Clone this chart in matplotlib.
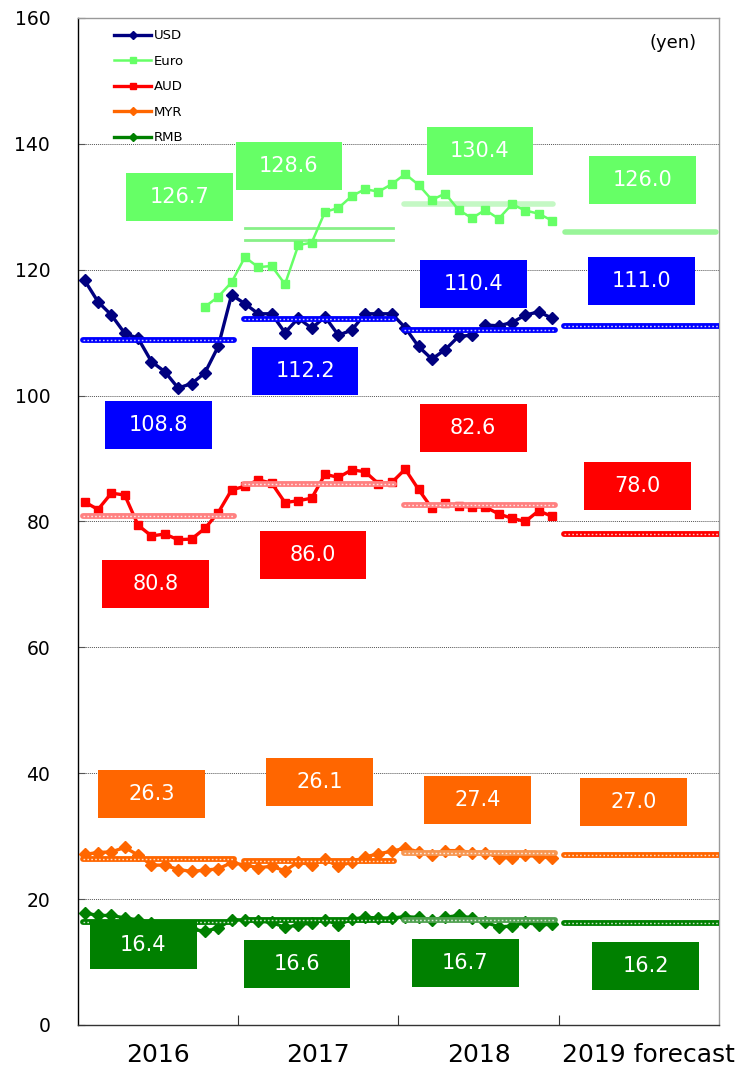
import numpy as np
import matplotlib
matplotlib.use("Agg")
import matplotlib.pyplot as plt
from matplotlib.patches import Rectangle
from matplotlib.lines import Line2D

# ---------------------------------------------------------------------------
# Monthly rates (yen per unit), Jan 2016 - Dec 2018
# ---------------------------------------------------------------------------
years = ["2016", "2017", "2018", "2019 forecast"]

usd = [118.3, 114.9, 112.8, 109.9, 109.1, 105.4, 103.8, 101.2, 101.9, 103.6, 107.8, 116.0,
       114.6, 113.0, 113.0, 110.0, 112.3, 110.7, 112.5, 109.6, 110.4, 113.0, 113.0, 113.0,
       110.8, 107.8, 105.8, 107.3, 109.4, 109.6, 111.2, 111.1, 111.6, 112.8, 113.3, 112.3]

euro = [np.nan] * 9 + [
        114.1, 115.7, 118.0,
        122.0, 120.4, 120.6, 117.7, 123.9, 124.3, 129.2, 129.8, 131.7, 132.8, 132.4, 133.6,
        135.2, 133.5, 131.1, 132.1, 129.5, 128.2, 129.5, 128.1, 130.4, 129.4, 128.9, 127.8]

aud = [83.1, 81.9, 84.5, 84.2, 79.4, 77.7, 78.0, 77.1, 77.2, 78.9, 81.4, 85.0,
       85.6, 86.6, 86.1, 83.0, 83.3, 83.7, 87.5, 87.0, 88.2, 87.9, 86.0, 86.2,
       88.3, 85.1, 82.1, 82.9, 82.4, 82.3, 82.3, 81.2, 80.5, 80.0, 81.7, 80.8]

myr = [27.1, 27.4, 27.5, 28.2, 27.0, 25.4, 25.4, 24.7, 24.4, 24.6, 24.8, 25.8,
       25.4, 25.0, 25.2, 24.5, 25.9, 25.4, 26.3, 25.2, 25.9, 26.7, 27.2, 27.6,
       28.1, 27.5, 27.0, 27.7, 27.7, 27.4, 27.4, 26.6, 26.6, 27.0, 26.7, 26.6]

rmb = [17.8, 17.4, 17.4, 17.0, 16.7, 16.2, 15.8, 15.5, 15.2, 14.9, 15.4, 16.7,
       16.7, 16.5, 16.3, 15.5, 15.9, 16.2, 16.7, 15.9, 16.8, 17.1, 17.0, 17.0,
       17.2, 17.1, 16.7, 17.1, 17.4, 17.0, 16.3, 15.6, 15.7, 16.3, 15.9, 16.0]

# yearly averages (2016, 2017, 2018, 2019 forecast)
usd_avg = [108.8, 112.2, 110.4, 111.0]
euro_avg = [126.7, 128.6, 130.4, 126.0]
aud_avg = [80.8, 86.0, 82.6, 78.0]
myr_avg = [26.3, 26.1, 27.4, 27.0]
rmb_avg = [16.4, 16.6, 16.7, 16.2]

# euro reference lines that sit in the 2017 block
euro_2017_lines = [126.7, 124.7]

# ---------------------------------------------------------------------------
# Figure
# ---------------------------------------------------------------------------
fig = plt.figure(figsize=(7.4, 10.69), dpi=100)
ax = fig.add_axes([0.1054, 0.0412, 0.8662, 0.942])

months = np.arange(36) + 0.5
ax.set_xlim(0, 48)
ax.set_ylim(0, 160)

series = [
    ("USD", usd, "#000080", "D", 6.0, 2.4),
    ("Euro", euro, "#66ff66", "s", 6.0, 1.8),
    ("AUD", aud, "#ff0000", "s", 6.0, 2.4),
    ("MYR", myr, "#ff6600", "D", 6.0, 2.4),
    ("RMB", rmb, "#008000", "D", 6.0, 2.4),
]
for name, vals, col, mk, ms, lw in series:
    ax.plot(months, vals, color=col, marker=mk, markersize=ms, linewidth=lw, zorder=4)


def dotted_avg(value, year_idx, color, x0=0.4, x1=11.7):
    xs = [year_idx * 12 + x0, year_idx * 12 + x1]
    ax.plot(xs, [value, value], color=color, linewidth=4.2,
            solid_capstyle="round", zorder=5)
    ax.plot(xs, [value, value], color="white", linewidth=1.0,
            linestyle=(0, (1.2, 1.6)), alpha=0.8, zorder=6)


for i, v in enumerate(usd_avg):
    dotted_avg(v, i, "#0000ff", x1=11.7 if i < 3 else 12.0)
for i, v in enumerate(aud_avg):
    dotted_avg(v, i, "#ff8080" if i < 3 else "#ff0000", x1=11.7 if i < 3 else 12.0)
for i, v in enumerate(myr_avg):
    dotted_avg(v, i, "#f79650" if i == 2 else "#ff6600", x1=11.7 if i < 3 else 12.0)
for i, v in enumerate(rmb_avg):
    dotted_avg(v, i, "#4fa04f" if i == 2 else "#008000", x1=11.7 if i < 3 else 12.0)

# euro: plain solid average lines
for v in euro_2017_lines:
    ax.plot([12.5, 23.6], [v, v], color="#88f088", linewidth=2.0, zorder=3)
ax.plot([24.4, 35.6], [euro_avg[2], euro_avg[2]], color="#c4f8c4",
        linewidth=4.0, solid_capstyle="round", zorder=3)
ax.plot([36.5, 47.8], [euro_avg[3], euro_avg[3]], color="#99f599",
        linewidth=4.0, solid_capstyle="round", zorder=3)

# ---------------------------------------------------------------------------
# Value boxes (centre month, centre height)
# ---------------------------------------------------------------------------
box_w, box_h = 8.0, 7.6
box_spots = {
    "euro": [(7.6, 131.6), (15.8, 136.5), (30.1, 138.9), (42.3, 134.3)],
    "usd": [(6.0, 95.3), (17.0, 103.9), (29.6, 117.7), (42.2, 118.2)],
    "aud": [(5.8, 70.1), (17.6, 74.7), (29.6, 94.9), (41.9, 85.6)],
    "myr": [(5.5, 36.7), (18.1, 38.6), (29.9, 35.7), (41.6, 35.4)],
    "rmb": [(4.9, 12.7), (16.4, 9.7), (29.0, 9.9), (42.5, 9.4)],
}
box_sets = [
    ("euro", euro_avg, "#66ff66"),
    ("usd", usd_avg, "#0000ff"),
    ("aud", aud_avg, "#ff0000"),
    ("myr", myr_avg, "#ff6600"),
    ("rmb", rmb_avg, "#008000"),
]
for key, vals, col in box_sets:
    for (cx, cy), v in zip(box_spots[key], vals):
        ax.add_patch(Rectangle((cx - box_w / 2, cy - box_h / 2), box_w, box_h,
                               facecolor=col, edgecolor="none", zorder=8))
        ax.text(cx, cy, f"{v:.1f}", color="white", fontsize=15,
                ha="center", va="center", zorder=9)

# ---------------------------------------------------------------------------
# Axes styling
# ---------------------------------------------------------------------------
ax.set_yticks(np.arange(0, 161, 20))
ax.tick_params(axis="y", direction="in", length=5, labelsize=13.5, pad=20,
               color="#555555")
ax.set_xticks([12, 24, 36])
ax.set_xticklabels([])
ax.tick_params(axis="x", direction="in", length=7, color="#333333")
for y in range(20, 160, 20):
    ax.axhline(y, color="#555555", linewidth=0.7, linestyle=(0, (1, 1)), zorder=1)

ax.spines["left"].set_color("black")
ax.spines["bottom"].set_color("#333333")
ax.spines["top"].set_color("#999999")
ax.spines["right"].set_color("#999999")
for s in ax.spines.values():
    s.set_linewidth(1.0)

xt = ax.get_xaxis_transform()
for i, lab in enumerate(years):
    cx = i * 12 + 6 if i < 3 else 42.7
    ax.text(cx, -0.03, lab, transform=xt, ha="center", va="center", fontsize=18)

ax.text(0.965, 0.975, "(yen)", transform=ax.transAxes, ha="right", va="center",
        fontsize=13)

handles = [Line2D([], [], color=col, marker=mk, markersize=4, linewidth=lw)
           for name, vals, col, mk, ms, lw in series]
ax.legend(handles, [s[0] for s in series], loc="upper left",
          bbox_to_anchor=(0.048, 0.994), frameon=False, fontsize=9.5,
          handlelength=2.8, handletextpad=0.2, labelspacing=0.95,
          borderaxespad=0)

fig.savefig("out.png", dpi=100)
